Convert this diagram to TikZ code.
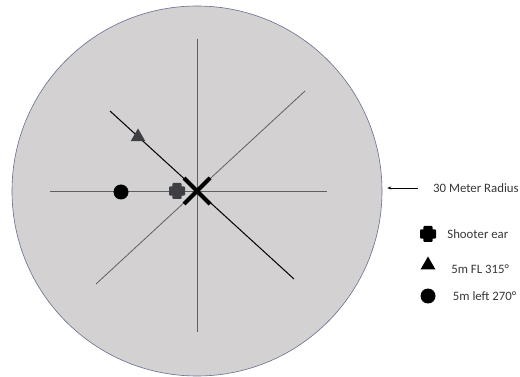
\documentclass[tikz,border=0pt]{standalone}
\usepackage{fontspec}
\setmainfont{Carlito}
\usetikzlibrary{positioning,arrows.meta,shapes.geometric}

\definecolor{rangefill}{RGB}{211,209,210}
\definecolor{rimline}{RGB}{105,110,140}
\definecolor{markgray}{RGB}{62,62,68}
\definecolor{axisgray}{RGB}{95,95,95}
\definecolor{textgray}{RGB}{55,55,55}

\tikzset{
  axis/.style={axisgray,line width=0.8pt},
  tri/.style={regular polygon,regular polygon sides=3,inner sep=0pt,minimum size=17pt},
  dotmark/.style={circle,inner sep=0pt,minimum size=15pt},
  earmark/.style={inner sep=0pt,minimum size=16pt,path picture={
      \fill[#1,rounded corners=1pt] ([shift={(-4.6,-8)}]path picture bounding box.center) rectangle ([shift={(4.6,8)}]path picture bounding box.center);
      \fill[#1,rounded corners=1pt] ([shift={(-8,-4.6)}]path picture bounding box.center) rectangle ([shift={(8,4.6)}]path picture bounding box.center);}},
  keytext/.style={inner sep=0pt,text=textgray,font=\fontsize{12.8}{15}\selectfont}
}

\begin{document}
\begin{tikzpicture}[x=1pt,y=-1pt]
  \fill[white] (0,0) rectangle (520,377);
  % range circle
  \node[circle,draw=rimline,fill=rangefill,line width=0.6pt,inner sep=0pt,minimum size=370pt] (rim) at (197,191) {};
  \coordinate (c) at (197,191);
  \coordinate (n) at (197,39);  \coordinate (s) at (197,332);
  \coordinate (w) at (50,191);  \coordinate (e) at (327,191);
  \coordinate (ne) at (305,91); \coordinate (sw) at (96,284);
  \coordinate (nw) at (110,111); \coordinate (se) at (294,279);
  \draw[axis] (n) -- (s);
  \draw[axis] (w) -- (e);
  \draw[axis] (sw) -- (ne);
  \draw[black,line width=1pt] (nw) -- (se);
  % shooter position
  \draw[line width=4pt] ([shift={(-13,-13)}]c) -- ([shift={(13,13)}]c);
  \draw[line width=4pt] ([shift={(-13,13)}]c) -- ([shift={(13,-13)}]c);
  \node[earmark=markgray] (ear) at (177,191) {};
  \node[tri,fill=markgray] (fl) at (138,137) {};
  \node[dotmark,fill=black] (left) at (121,192) {};
  % radius label
  \node[keytext,anchor=west] (radlbl) at (433,188) {30 Meter Radius};
  \draw[-{Stealth[length=4pt,width=3pt]},line width=0.6pt,shorten <=15pt,shorten >=5pt] (radlbl.west) -- (radlbl.west -| rim.east);
  % legend
  \node[earmark=black] (keyear) at (428,234) {};
  \node[tri,fill=black] (keyfl) at (428,265) {};
  \node[dotmark,fill=black] (keyleft) at (428,296) {};
  \node[keytext,right=11pt of keyear] (earlbl) {Shooter ear};
  \node[keytext,right=18pt of keyfl.east,yshift=-4pt] (fllbl) {5m FL 315°};
  \node[keytext,right=17pt of keyleft] (leftlbl) {5m left 270°};
\end{tikzpicture}
\end{document}
